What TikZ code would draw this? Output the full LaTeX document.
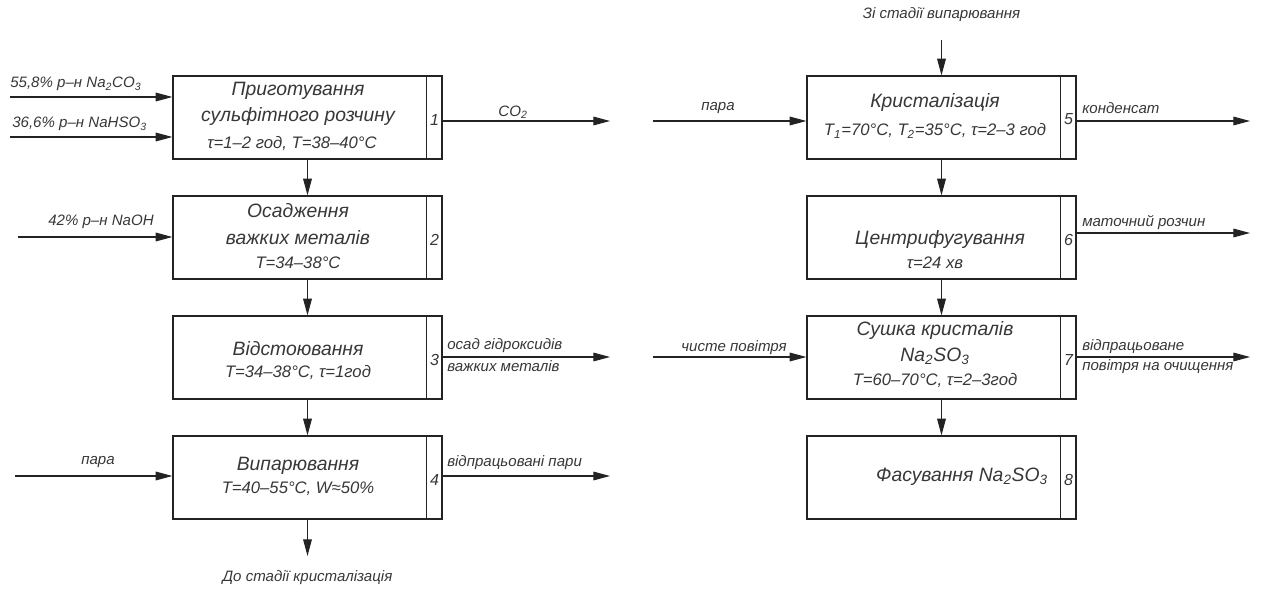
\documentclass[tikz,border=0pt]{standalone}
\usepackage{fontspec}
\setmainfont{Liberation Sans}
\usetikzlibrary{arrows.meta,positioning,calc}
\definecolor{cadline}{RGB}{35,35,35}
\definecolor{cadtext}{RGB}{55,55,55}

\begin{document}
\begin{tikzpicture}[x=0.75pt,y=-0.75pt,>={Triangle[length=12.5pt,width=6.5pt]},
    stage/.style={draw=cadline,line width=0.9pt,minimum width=201.75pt,minimum height=62.25pt,inner sep=0pt},
    flow/.style={->,draw=cadline,line width=0.8pt},
    title/.style={font=\fontsize{14.5}{20}\selectfont\itshape,text=cadtext,align=center,inner sep=0pt},
    param/.style={font=\fontsize{12.5}{14}\selectfont\itshape,text=cadtext,inner sep=0pt},
    lbl/.style={font=\fontsize{11.3}{13}\selectfont\itshape,text=cadtext,inner sep=0pt},
    num/.style={font=\fontsize{12}{14}\selectfont\itshape,text=cadtext,inner sep=0pt}]
    \useasboundingbox (0,0) rectangle (1267,592);

    % stages, left column
    \node[stage] (b1) at (307.5,117.5) {};
    \node[stage] (b2) at (307.5,237.5) {};
    \node[stage] (b3) at (307.5,357.5) {};
    \node[stage] (b4) at (307.5,477.5) {};
    % stages, right column
    \node[stage] (b5) at (941.5,117.5) {};
    \node[stage] (b6) at (941.5,237.5) {};
    \node[stage] (b7) at (941.5,357.5) {};
    \node[stage] (b8) at (941.5,477.5) {};

    \foreach \b/\n in {b1/1,b2/2,b3/3,b4/4,b5/5,b6/6,b7/7,b8/8} {
        \draw[cadline,line width=0.9pt] ($(\b.north east)+(-16,0)$) -- ($(\b.south east)+(-16,0)$);
        \node[num] (n\n) at ($(\b.east)+(-8,2)$) {\n};
    }

    \node[title] (t1) at (298,104) {Приготування\\сульфітного розчину};
    \node[param] (p1) at (292,144) {τ=1–2 год, T=38–40°C};
    \node[title] (t2) at (298,224) {Осадження\\важких металів};
    \node[param] (p2) at (298,263) {T=34–38°C};
    \node[title] (t3) at (298,349) {Відстоювання};
    \node[param] (p3) at (298,373) {T=34–38°C, τ=1год};
    \node[title] (t4) at (298,466) {Випарювання};
    \node[param] (p4) at (298,489) {T=40–55°C, W≈50\%};

    \node[title] (t5) at (935,103) {Кристалізація};
    \node[param] (p5) at (935,131) {T\textsubscript{1}=70°C, T\textsubscript{2}=35°C, τ=2–3 год};
    \node[title] (t6) at (940,239) {Центрифугування};
    \node[param] (p6) at (935,263) {τ=24 хв};
    \node[title] (t7) at (935,343) {Сушка кристалів\\Na\textsubscript{2}SO\textsubscript{3}};
    \node[param] (p7) at (935,381) {T=60–70°C, τ=2–3год};
    \node[title] (t8) at (962,477) {Фасування Na\textsubscript{2}SO\textsubscript{3}};

    % flow between stages
    \draw[flow] (b1) -- (b2);
    \draw[flow] (b2) -- (b3);
    \draw[flow] (b3) -- (b4);
    \draw[flow] (b5) -- (b6);
    \draw[flow] (b6) -- (b7);
    \draw[flow] (b7) -- (b8);

    % inputs and outputs
    \coordinate (i1a) at (10,97);
    \coordinate (i1b) at (10,137);
    \coordinate (o1) at (610,121);
    \coordinate (i2) at (18,237);
    \coordinate (o3) at (610,357);
    \coordinate (i4) at (15,476);
    \coordinate (o4) at (610,476);
    \coordinate (d4) at (307.5,556);
    \coordinate (u5) at (941.5,40);
    \coordinate (i5) at (653,121);
    \coordinate (o5) at (1250,121);
    \coordinate (o6) at (1250,233);
    \coordinate (i7) at (653,357);
    \coordinate (o7) at (1250,357);

    \draw[flow] (i1a) -- (b1.west|-i1a);
    \draw[flow] (i1b) -- (b1.west|-i1b);
    \draw[flow] (b1.east|-o1) -- (o1);
    \draw[flow] (i2) -- (b2.west|-i2);
    \draw[flow] (b3.east|-o3) -- (o3);
    \draw[flow] (i4) -- (b4.west|-i4);
    \draw[flow] (b4.east|-o4) -- (o4);
    \draw[flow] (b4) -- (d4);
    \draw[flow] (u5) -- (b5);
    \draw[flow] (i5) -- (b5.west|-i5);
    \draw[flow] (b5.east|-o5) -- (o5);
    \draw[flow] (b6.east|-o6) -- (o6);
    \draw[flow] (i7) -- (b7.west|-i7);
    \draw[flow] (b7.east|-o7) -- (o7);

    % stream labels
    \node[lbl,anchor=west] (l1a) at (10,84) {55,8\% р–н Na\textsubscript{2}CO\textsubscript{3}};
    \node[lbl,anchor=west] (l1b) at (12,124) {36,6\% р–н NaHSO\textsubscript{3}};
    \node[lbl] (l1c) at (513,112) {CO\textsubscript{2}};
    \node[lbl] (l2) at (101,222) {42\% р–н NaOH};
    \node[lbl,anchor=west] (l3a) at (447,346) {осад гідроксидів};
    \node[lbl,anchor=west] (l3b) at (447,366) {важких металів};
    \node[lbl] (l4a) at (98,462) {пара};
    \node[lbl,anchor=west] (l4b) at (447,463) {відпрацьовані пари};
    \node[lbl] (l4c) at (307.5,578) {До стадії кристалізація};
    \node[lbl] (l5a) at (941.5,15) {Зі стадії випарювання};
    \node[lbl] (l5b) at (718,108) {пара};
    \node[lbl,anchor=west] (l5c) at (1082,108) {конденсат};
    \node[lbl,anchor=west] (l6) at (1082,222) {маточний розчин};
    \node[lbl] (l7a) at (734,348) {чисте повітря};
    \node[lbl,anchor=west] (l7b) at (1082,347) {відпрацьоване};
    \node[lbl,anchor=west] (l7c) at (1082,367) {повітря на очищення};
\end{tikzpicture}
\end{document}
